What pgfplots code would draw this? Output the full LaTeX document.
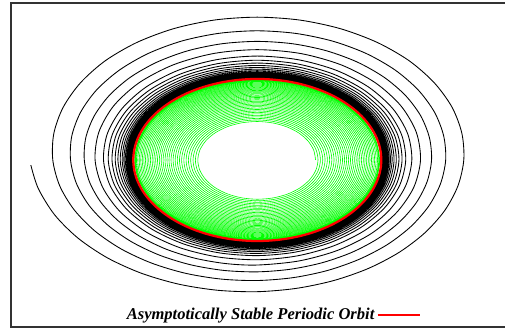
\documentclass[border=0pt]{standalone}
\usepackage{fontspec}
\setmainfont{Liberation Serif}
\usepackage{pgfplots}
\pgfplotsset{compat=1.18}
\begin{document}
\begin{tikzpicture}
\useasboundingbox (0,0) rectangle (378.75pt,246.75pt);
\clip (0,0) rectangle (378.75pt,246.75pt);
\begin{axis}[
  at={(8.25pt,1.5pt)}, anchor=south west,
  width=378pt, height=243pt, scale only axis,
  xmin=-1.986, xmax=2.078, ymin=-2.062, ymax=1.938,
  ticks=none,
  axis line style={black!80, line width=1.1pt},
  legend plot pos=right,
  legend style={draw=none, fill=none, at={(axis description cs:0.8214,0.037)}, anchor=east,
    font=\fontsize{12.4}{14}\selectfont\bfseries\itshape},
  legend image code/.code={\draw[red, line width=0.8pt] (6pt,0pt) -- (38pt,0pt);},
]
\addplot[forget plot, black, line width=0.65pt, smooth, line join=round, data cs=polar] coordinates {
(182,1.827)(191.25,1.801)(202.5,1.769)(213.75,1.738)(225,1.709)(236.25,1.682)(247.5,1.659)(258.75,1.640)
(270,1.626)(281.25,1.616)(292.5,1.611)(303.75,1.611)(315,1.615)(326.25,1.623)(337.5,1.635)(348.75,1.649)
(360,1.665)(371.25,1.682)(382.5,1.700)(393.75,1.716)(405,1.732)(416.25,1.744)(427.5,1.754)(438.75,1.761)
(450,1.763)(461.25,1.762)(472.5,1.756)(483.75,1.746)(495,1.733)(506.25,1.715)(517.5,1.695)(528.75,1.673)
(540,1.649)(551.25,1.625)(562.5,1.600)(573.75,1.576)(585,1.553)(596.25,1.532)(607.5,1.514)(618.75,1.499)
(630,1.488)(641.25,1.481)(652.5,1.477)(663.75,1.476)(675,1.480)(686.25,1.486)(697.5,1.495)(708.75,1.506)
(720,1.519)(731.25,1.532)(742.5,1.546)(753.75,1.559)(765,1.571)(776.25,1.581)(787.5,1.588)(798.75,1.593)
(810,1.595)(821.25,1.594)(832.5,1.590)(843.75,1.582)(855,1.571)(866.25,1.558)(877.5,1.542)(888.75,1.525)
(900,1.506)(911.25,1.487)(922.5,1.468)(933.75,1.449)(945,1.431)(956.25,1.415)(967.5,1.401)(978.75,1.390)
(990,1.381)(1001.25,1.375)(1012.5,1.372)(1023.75,1.372)(1035,1.374)(1046.25,1.379)(1057.5,1.386)(1068.75,1.395)
(1080,1.405)(1091.25,1.415)(1102.5,1.426)(1113.75,1.436)(1125,1.445)(1136.25,1.453)(1147.5,1.459)(1158.75,1.463)
(1170,1.464)(1181.25,1.463)(1192.5,1.460)(1203.75,1.454)(1215,1.446)(1226.25,1.435)(1237.5,1.423)(1248.75,1.410)
(1260,1.395)(1271.25,1.380)(1282.5,1.365)(1293.75,1.350)(1305,1.336)(1316.25,1.324)(1327.5,1.313)(1338.75,1.304)
(1350,1.297)(1365,1.291)(1380,1.290)(1395,1.292)(1410,1.297)(1425,1.306)(1440,1.316)(1455,1.327)(1470,1.337)
(1485,1.347)(1500,1.355)(1515,1.360)(1530,1.362)(1545,1.361)(1560,1.356)(1575,1.348)(1590,1.337)(1605,1.323)
(1620,1.308)(1635,1.292)(1650,1.277)(1665,1.262)(1680,1.250)(1695,1.239)
(1710,1.232)(1725,1.227)(1740,1.226)(1755,1.228)(1770,1.232)(1785,1.238)(1800,1.246)(1815,1.255)(1830,1.263)
(1845,1.271)(1860,1.277)(1875,1.281)(1890,1.283)(1905,1.281)(1920,1.278)(1935,1.271)(1950,1.262)(1965,1.252)
(1980,1.240)(1995,1.228)(2010,1.216)(2025,1.205)(2040,1.195)(2055,1.187)
(2070,1.1807)(2085,1.1780)(2100,1.1777)(2115,1.1797)(2130,1.1839)(2145,1.1897)(2160,1.1968)(2175,1.2044)(2190,1.2121)(2205,1.2191)(2220,1.2249)(2235,1.2292)(2250,1.2314)(2265,1.2314)(2280,1.2292)(2295,1.2248)(2310,1.2185)(2325,1.2107)(2340,1.2017)(2355,1.1922)(2370,1.1827)(2385,1.1739)(2400,1.1661)(2415,1.1598)
(2430,1.1536)(2445,1.1512)(2460,1.1510)(2475,1.1528)(2490,1.1563)(2505,1.1613)(2520,1.1672)(2535,1.1737)(2550,1.1802)(2565,1.1862)(2580,1.1912)(2595,1.1948)(2610,1.1966)(2625,1.1967)(2640,1.1948)(2655,1.1911)(2670,1.1857)(2685,1.1790)(2700,1.1714)(2715,1.1634)(2730,1.1553)(2745,1.1478)(2760,1.1411)(2775,1.1358)
(2790,1.1305)(2805,1.1286)(2820,1.1284)(2835,1.1299)(2850,1.1329)(2865,1.1371)(2880,1.1422)(2895,1.1477)(2910,1.1532)(2925,1.1583)(2940,1.1625)(2955,1.1656)(2970,1.1672)(2985,1.1672)(3000,1.1656)(3015,1.1624)(3030,1.1579)(3045,1.1522)(3060,1.1457)(3075,1.1389)(3090,1.1320)(3105,1.1256)(3120,1.1200)(3135,1.1155)
(3150,1.1110)(3165,1.1093)(3180,1.1091)(3195,1.1104)(3210,1.1129)(3225,1.1165)(3240,1.1209)(3255,1.1255)(3270,1.1302)(3285,1.1346)(3300,1.1381)(3315,1.1407)(3330,1.1421)(3345,1.1421)(3360,1.1408)(3375,1.1381)(3390,1.1342)(3405,1.1294)(3420,1.1239)(3435,1.1180)(3450,1.1122)(3465,1.1068)(3480,1.1020)(3495,1.0981)
(3510,1.0943)(3525,1.0929)(3540,1.0928)(3555,1.0938)(3570,1.0960)(3585,1.0991)(3600,1.1027)(3615,1.1067)(3630,1.1107)(3645,1.1144)(3660,1.1174)(3675,1.1196)(3690,1.1208)(3705,1.1208)(3720,1.1197)(3735,1.1174)(3750,1.1141)(3765,1.1100)(3780,1.1053)(3795,1.1004)(3810,1.0954)(3825,1.0908)(3840,1.0867)(3855,1.0834)
(3870,1.0801)(3885,1.0789)(3900,1.0788)(3915,1.0797)(3930,1.0816)(3945,1.0842)(3960,1.0873)(3975,1.0907)(3990,1.0941)(4005,1.0972)(4020,1.0998)(4035,1.1016)(4050,1.1026)(4065,1.1026)(4080,1.1017)(4095,1.0997)(4110,1.0969)(4125,1.0934)(4140,1.0895)(4155,1.0853)(4170,1.0811)(4185,1.0771)(4200,1.0737)(4215,1.0709)
(4230,1.0681)(4245,1.0671)(4260,1.0670)(4275,1.0678)(4290,1.0693)(4305,1.0715)(4320,1.0742)(4335,1.0771)(4350,1.0800)(4365,1.0826)(4380,1.0848)(4395,1.0864)(4410,1.0872)(4425,1.0873)(4440,1.0864)(4455,1.0848)(4470,1.0824)(4485,1.0794)(4500,1.0761)(4515,1.0725)(4530,1.0689)(4545,1.0656)(4560,1.0626)(4575,1.0603)
(4590,1.0580)(4605,1.0571)(4620,1.0570)(4635,1.0577)(4650,1.0590)(4665,1.0609)(4680,1.0631)(4695,1.0656)(4710,1.0680)(4725,1.0703)(4740,1.0722)(4755,1.0735)(4770,1.0742)(4785,1.0742)(4800,1.0735)(4815,1.0721)(4830,1.0701)(4845,1.0676)(4860,1.0647)(4875,1.0617)(4890,1.0586)(4905,1.0558)(4920,1.0533)(4935,1.0513)
(4950,1.0492)(4965,1.0485)(4980,1.0484)(4995,1.0490)(5010,1.0501)(5025,1.0517)(5040,1.0536)(5055,1.0557)(5070,1.0578)(5085,1.0597)(5100,1.0613)(5115,1.0624)(5130,1.0630)(5145,1.0631)(5160,1.0624)(5175,1.0613)(5190,1.0595)(5205,1.0574)(5220,1.0550)(5235,1.0524)(5250,1.0498)(5265,1.0474)(5280,1.0452)(5295,1.0435)
(5310,1.0418)(5325,1.0412)(5340,1.0411)(5355,1.0416)(5370,1.0426)(5385,1.0439)(5400,1.0456)(5415,1.0473)(5430,1.0491)(5445,1.0507)(5460,1.0521)(5475,1.0531)(5490,1.0536)(5505,1.0536)(5520,1.0531)(5535,1.0521)(5550,1.0506)(5565,1.0488)(5580,1.0467)(5595,1.0445)(5610,1.0423)(5625,1.0403)(5640,1.0385)(5655,1.0370)
(5670,1.0356)(5685,1.0351)(5700,1.0350)(5715,1.0354)(5730,1.0362)(5745,1.0374)(5760,1.0388)(5775,1.0403)(5790,1.0418)(5805,1.0432)(5820,1.0443)(5835,1.0452)(5850,1.0456)(5865,1.0456)(5880,1.0452)(5895,1.0443)(5910,1.0431)(5925,1.0415)(5940,1.0398)(5955,1.0379)(5970,1.0360)(5985,1.0343)(6000,1.0327)(6015,1.0315)
(6030,1.0302)(6045,1.0298)(6060,1.0297)(6075,1.0301)(6090,1.0308)(6105,1.0318)(6120,1.0329)(6135,1.0342)(6150,1.0355)(6165,1.0367)(6180,1.0376)(6195,1.0384)(6210,1.0387)(6225,1.0387)(6240,1.0384)(6255,1.0376)(6270,1.0366)(6285,1.0353)(6300,1.0338)(6315,1.0322)(6330,1.0306)(6345,1.0291)(6360,1.0278)(6375,1.0267)
(6390,1.0257)(6405,1.0253)(6420,1.0253)(6435,1.0256)(6450,1.0262)(6465,1.0270)(6480,1.0280)(6495,1.0291)(6510,1.0302)(6525,1.0312)(6540,1.0320)(6555,1.0326)(6570,1.0329)(6585,1.0329)(6600,1.0326)(6615,1.0320)(6630,1.0311)(6645,1.0300)(6660,1.0287)(6675,1.0273)(6690,1.0260)(6705,1.0247)(6720,1.0236)(6735,1.0227)
(6750,1.0218)(6765,1.0215)(6780,1.0215)(6795,1.0217)(6810,1.0222)(6825,1.0229)(6840,1.0238)(6855,1.0247)(6870,1.0256)(6885,1.0265)(6900,1.0272)(6915,1.0277)(6930,1.0280)(6945,1.0280)(6960,1.0277)(6975,1.0272)(6990,1.0264)(7005,1.0255)(7020,1.0244)(7035,1.0232)(7050,1.0221)(7065,1.0210)(7080,1.0201)(7095,1.0193)
(7110,1.0186)(7125,1.0183)(7140,1.0183)(7155,1.0185)(7170,1.0189)(7185,1.0195)(7200,1.0202)(7215,1.0210)(7230,1.0218)(7245,1.0225)(7260,1.0231)(7275,1.0235)(7290,1.0238)(7305,1.0238)(7320,1.0236)(7335,1.0231)(7350,1.0225)(7365,1.0216)(7380,1.0207)(7395,1.0198)(7410,1.0188)(7425,1.0179)(7440,1.0171)(7455,1.0164)
(7470,1.0158)(7485,1.0156)(7500,1.0155)(7515,1.0157)(7530,1.0161)(7545,1.0166)(7560,1.0172)(7575,1.0179)(7590,1.0185)(7605,1.0191)(7620,1.0197)(7635,1.0200)(7650,1.0202)(7665,1.0202)(7680,1.0200)(7695,1.0197)(7710,1.0191)(7725,1.0184)(7740,1.0176)(7755,1.0168)(7770,1.0160)(7785,1.0152)(7800,1.0145)(7815,1.0140)
(7830,1.0134)(7845,1.0132)(7860,1.0132)(7875,1.0134)(7890,1.0137)(7905,1.0141)(7920,1.0146)(7935,1.0152)(7950,1.0158)(7965,1.0163)(7980,1.0167)(7995,1.0170)(8010,1.0172)(8025,1.0172)(8040,1.0170)(8055,1.0167)(8070,1.0163)(8085,1.0157)(8100,1.0150)(8115,1.0143)(8130,1.0136)(8145,1.0129)(8160,1.0124)(8175,1.0119)
(8190,1.0114)(8205,1.0113)(8220,1.0112)(8235,1.0114)(8250,1.0116)(8265,1.0120)(8280,1.0124)(8295,1.0129)(8310,1.0134)(8325,1.0139)(8340,1.0142)(8355,1.0145)(8370,1.0146)(8385,1.0146)(8400,1.0145)(8415,1.0142)(8430,1.0138)(8445,1.0133)(8460,1.0128)(8475,1.0122)(8490,1.0116)(8505,1.0110)(8520,1.0105)(8535,1.0101)
(8550,1.0097)(8565,1.0096)(8580,1.0096)(8595,1.0097)(8610,1.0099)(8625,1.0102)(8640,1.0106)(8655,1.0110)(8670,1.0114)(8685,1.0118)(8700,1.0121)(8715,1.0124)(8730,1.0125)(8745,1.0125)(8760,1.0124)(8775,1.0121)(8790,1.0118)(8805,1.0114)(8820,1.0109)(8835,1.0104)(8850,1.0099)(8865,1.0094)(8880,1.0090)(8895,1.0086)
(8910,1.0082)(8925,1.0081)(8940,1.0081)(8955,1.0082)(8970,1.0084)(8985,1.0086)(9000,1.0090)(9015,1.0093)(9030,1.0097)(9045,1.0100)(9060,1.0102)(9075,1.0104)(9090,1.0105)(9105,1.0105)(9120,1.0104)(9135,1.0102)(9150,1.0100)(9165,1.0096)(9180,1.0092)(9195,1.0088)(9210,1.0083)(9225,1.0079)(9240,1.0076)(9255,1.0073)
(9270,1.0071)
};
\addplot[forget plot, color={rgb,255:red,0;green,255;blue,0}, line width=0.45pt, smooth, line join=round, data cs=polar] coordinates {
(0,.4700)(15,.4708)(30,.4716)(45,.4724)(60,.4732)(75,.4741)(90,.4749)(105,.4757)(120,.4765)(135,.4773)(150,.4781)(165,.4789)(180,.4797)(195,.4805)(210,.4813)(225,.4822)(240,.4830)(255,.4838)(270,.4846)(285,.4854)(300,.4862)(315,.4870)(330,.4878)(345,.4886)
(360,.4895)(375,.4903)(390,.4911)(405,.4919)(420,.4927)(435,.4935)(450,.4943)(465,.4951)(480,.4959)(495,.4967)(510,.4975)(525,.4983)(540,.4991)(555,.4999)(570,.5007)(585,.5015)(600,.5023)(615,.5031)(630,.5039)(645,.5047)(660,.5055)(675,.5063)(690,.5071)(705,.5079)
(720,.5088)(735,.5096)(750,.5104)(765,.5112)(780,.5120)(795,.5128)(810,.5135)(825,.5143)(840,.5151)(855,.5159)(870,.5167)(885,.5175)(900,.5183)(915,.5191)(930,.5199)(945,.5207)(960,.5214)(975,.5222)(990,.5230)(1005,.5238)(1020,.5246)(1035,.5254)(1050,.5262)(1065,.5270)
(1080,.5278)(1095,.5286)(1110,.5294)(1125,.5301)(1140,.5309)(1155,.5317)(1170,.5325)(1185,.5333)(1200,.5340)(1215,.5348)(1230,.5356)(1245,.5364)(1260,.5372)(1275,.5379)(1290,.5387)(1305,.5395)(1320,.5403)(1335,.5411)(1350,.5418)(1365,.5426)(1380,.5434)(1395,.5442)(1410,.5450)(1425,.5457)
(1440,.5465)(1455,.5473)(1470,.5480)(1485,.5488)(1500,.5496)(1515,.5504)(1530,.5511)(1545,.5519)(1560,.5527)(1575,.5534)(1590,.5542)(1605,.5550)(1620,.5557)(1635,.5565)(1650,.5573)(1665,.5581)(1680,.5588)(1695,.5596)(1710,.5604)(1725,.5611)(1740,.5619)(1755,.5627)(1770,.5634)(1785,.5642)
(1800,.5650)(1815,.5658)(1830,.5665)(1845,.5673)(1860,.5680)(1875,.5688)(1890,.5696)(1905,.5703)(1920,.5711)(1935,.5718)(1950,.5726)(1965,.5734)(1980,.5741)(1995,.5749)(2010,.5756)(2025,.5764)(2040,.5772)(2055,.5779)(2070,.5787)(2085,.5794)(2100,.5802)(2115,.5810)(2130,.5817)(2145,.5825)
(2160,.5833)(2175,.5840)(2190,.5848)(2205,.5855)(2220,.5863)(2235,.5870)(2250,.5878)(2265,.5885)(2280,.5893)(2295,.5900)(2310,.5908)(2325,.5915)(2340,.5923)(2355,.5930)(2370,.5938)(2385,.5945)(2400,.5953)(2415,.5960)(2430,.5968)(2445,.5975)(2460,.5983)(2475,.5990)(2490,.5998)(2505,.6005)
(2520,.6013)(2535,.6020)(2550,.6028)(2565,.6035)(2580,.6043)(2595,.6050)(2610,.6057)(2625,.6065)(2640,.6072)(2655,.6080)(2670,.6087)(2685,.6094)(2700,.6102)(2715,.6109)(2730,.6117)(2745,.6124)(2760,.6131)(2775,.6139)(2790,.6146)(2805,.6154)(2820,.6161)(2835,.6168)(2850,.6176)(2865,.6183)
(2880,.6190)(2895,.6197)(2910,.6205)(2925,.6212)(2940,.6219)(2955,.6227)(2970,.6234)(2985,.6241)(3000,.6248)(3015,.6256)(3030,.6263)(3045,.6270)(3060,.6278)(3075,.6285)(3090,.6292)(3105,.6300)(3120,.6307)(3135,.6314)(3150,.6321)(3165,.6329)(3180,.6336)(3195,.6343)(3210,.6351)(3225,.6358)
(3240,.6365)(3255,.6372)(3270,.6379)(3285,.6387)(3300,.6394)(3315,.6401)(3330,.6408)(3345,.6415)(3360,.6423)(3375,.6430)(3390,.6437)(3405,.6444)(3420,.6451)(3435,.6459)(3450,.6466)(3465,.6473)(3480,.6480)(3495,.6487)(3510,.6495)(3525,.6502)(3540,.6509)(3555,.6516)(3570,.6523)(3585,.6531)
(3600,.6538)(3615,.6545)(3630,.6552)(3645,.6559)(3660,.6566)(3675,.6574)(3690,.6581)(3705,.6588)(3720,.6595)(3735,.6602)(3750,.6609)(3765,.6616)(3780,.6623)(3795,.6630)(3810,.6637)(3825,.6645)(3840,.6652)(3855,.6659)(3870,.6666)(3885,.6673)(3900,.6680)(3915,.6687)(3930,.6694)(3945,.6701)
(3960,.6708)(3975,.6715)(3990,.6722)(4005,.6729)(4020,.6736)(4035,.6743)(4050,.6750)(4065,.6757)(4080,.6764)(4095,.6771)(4110,.6778)(4125,.6785)(4140,.6792)(4155,.6799)(4170,.6806)(4185,.6813)(4200,.6820)(4215,.6827)(4230,.6834)(4245,.6841)(4260,.6848)(4275,.6855)(4290,.6862)(4305,.6869)
(4320,.6875)(4335,.6882)(4350,.6889)(4365,.6896)(4380,.6903)(4395,.6910)(4410,.6916)(4425,.6923)(4440,.6930)(4455,.6937)(4470,.6944)(4485,.6951)(4500,.6958)(4515,.6965)(4530,.6972)(4545,.6979)(4560,.6985)(4575,.6992)(4590,.6999)(4605,.7006)(4620,.7013)(4635,.7020)(4650,.7027)(4665,.7034)
(4680,.7040)(4695,.7047)(4710,.7054)(4725,.7060)(4740,.7067)(4755,.7074)(4770,.7081)(4785,.7088)(4800,.7094)(4815,.7101)(4830,.7108)(4845,.7115)(4860,.7122)(4875,.7128)(4890,.7135)(4905,.7142)(4920,.7149)(4935,.7156)(4950,.7162)(4965,.7169)(4980,.7176)(4995,.7183)(5010,.7190)(5025,.7196)
(5040,.7203)(5055,.7210)(5070,.7216)(5085,.7223)(5100,.7230)(5115,.7236)(5130,.7243)(5145,.7250)(5160,.7257)(5175,.7263)(5190,.7270)(5205,.7277)(5220,.7283)(5235,.7290)(5250,.7297)(5265,.7303)(5280,.7310)(5295,.7317)(5310,.7324)(5325,.7330)(5340,.7337)(5355,.7344)(5370,.7350)(5385,.7357)
(5400,.7363)(5415,.7370)(5430,.7376)(5445,.7383)(5460,.7389)(5475,.7396)(5490,.7403)(5505,.7409)(5520,.7416)(5535,.7422)(5550,.7429)(5565,.7436)(5580,.7442)(5595,.7449)(5610,.7455)(5625,.7462)(5640,.7469)(5655,.7475)(5670,.7482)(5685,.7488)(5700,.7495)(5715,.7502)(5730,.7508)(5745,.7515)
(5760,.7520)(5775,.7527)(5790,.7533)(5805,.7540)(5820,.7546)(5835,.7553)(5850,.7559)(5865,.7566)(5880,.7572)(5895,.7579)(5910,.7585)(5925,.7592)(5940,.7598)(5955,.7605)(5970,.7611)(5985,.7618)(6000,.7624)(6015,.7631)(6030,.7637)(6045,.7644)(6060,.7650)(6075,.7657)(6090,.7663)(6105,.7670)
(6120,.7675)(6135,.7681)(6150,.7688)(6165,.7694)(6180,.7700)(6195,.7707)(6210,.7713)(6225,.7719)(6240,.7726)(6255,.7732)(6270,.7739)(6285,.7745)(6300,.7751)(6315,.7758)(6330,.7764)(6345,.7770)(6360,.7777)(6375,.7783)(6390,.7789)(6405,.7796)(6420,.7802)(6435,.7808)(6450,.7815)(6465,.7821)
(6480,.7828)(6495,.7834)(6510,.7840)(6525,.7847)(6540,.7853)(6555,.7859)(6570,.7866)(6585,.7872)(6600,.7878)(6615,.7884)(6630,.7891)(6645,.7897)(6660,.7903)(6675,.7909)(6690,.7916)(6705,.7922)(6720,.7928)(6735,.7934)(6750,.7941)(6765,.7947)(6780,.7953)(6795,.7959)(6810,.7966)(6825,.7972)
(6840,.7978)(6855,.7984)(6870,.7990)(6885,.7996)(6900,.8003)(6915,.8009)(6930,.8015)(6945,.8021)(6960,.8027)(6975,.8033)(6990,.8040)(7005,.8046)(7020,.8052)(7035,.8058)(7050,.8064)(7065,.8070)(7080,.8076)(7095,.8083)(7110,.8089)(7125,.8095)(7140,.8101)(7155,.8107)(7170,.8113)(7185,.8119)
(7200,.8125)(7215,.8131)(7230,.8137)(7245,.8143)(7260,.8149)(7275,.8155)(7290,.8161)(7305,.8167)(7320,.8173)(7335,.8179)(7350,.8185)(7365,.8191)(7380,.8197)(7395,.8204)(7410,.8210)(7425,.8216)(7440,.8222)(7455,.8228)(7470,.8234)(7485,.8240)(7500,.8246)(7515,.8252)(7530,.8258)(7545,.8264)
(7560,.8270)(7575,.8276)(7590,.8282)(7605,.8288)(7620,.8294)(7635,.8300)(7650,.8306)(7665,.8312)(7680,.8318)(7695,.8323)(7710,.8329)(7725,.8335)(7740,.8341)(7755,.8347)(7770,.8353)(7785,.8359)(7800,.8365)(7815,.8371)(7830,.8377)(7845,.8383)(7860,.8389)(7875,.8395)(7890,.8401)(7905,.8407)
(7920,.8413)(7935,.8419)(7950,.8425)(7965,.8430)(7980,.8436)(7995,.8442)(8010,.8448)(8025,.8454)(8040,.8460)(8055,.8465)(8070,.8471)(8085,.8477)(8100,.8483)(8115,.8489)(8130,.8495)(8145,.8500)(8160,.8506)(8175,.8512)(8190,.8518)(8205,.8524)(8220,.8530)(8235,.8535)(8250,.8541)(8265,.8547)
(8280,.8553)(8295,.8559)(8310,.8564)(8325,.8570)(8340,.8576)(8355,.8582)(8370,.8587)(8385,.8593)(8400,.8599)(8415,.8605)(8430,.8610)(8445,.8616)(8460,.8622)(8475,.8627)(8490,.8633)(8505,.8639)(8520,.8645)(8535,.8650)(8550,.8656)(8565,.8662)(8580,.8668)(8595,.8673)(8610,.8679)(8625,.8685)
(8640,.8690)(8655,.8696)(8670,.8701)(8685,.8707)(8700,.8713)(8715,.8718)(8730,.8724)(8745,.8729)(8760,.8735)(8775,.8741)(8790,.8746)(8805,.8752)(8820,.8758)(8835,.8763)(8850,.8769)(8865,.8774)(8880,.8780)(8895,.8786)(8910,.8791)(8925,.8797)(8940,.8803)(8955,.8808)(8970,.8814)(8985,.8819)
(9000,.8825)(9015,.8831)(9030,.8836)(9045,.8842)(9060,.8847)(9075,.8853)(9090,.8858)(9105,.8864)(9120,.8869)(9135,.8875)(9150,.8880)(9165,.8886)(9180,.8891)(9195,.8897)(9210,.8902)(9225,.8908)(9240,.8913)(9255,.8919)(9270,.8924)(9285,.8930)(9300,.8935)(9315,.8941)(9330,.8946)(9345,.8952)
(9360,.8958)(9375,.8963)(9390,.8968)(9405,.8974)(9420,.8979)(9435,.8985)(9450,.8990)(9465,.8996)(9480,.9001)(9495,.9006)(9510,.9012)(9525,.9017)(9540,.9023)(9555,.9028)(9570,.9034)(9585,.9039)(9600,.9045)(9615,.9050)(9630,.9055)(9645,.9061)(9660,.9066)(9675,.9072)(9690,.9077)(9705,.9083)
(9720,.9088)(9735,.9093)(9750,.9098)(9765,.9104)(9780,.9109)(9795,.9114)(9810,.9120)(9825,.9125)(9840,.9130)(9855,.9136)(9870,.9141)(9885,.9146)(9900,.9152)(9915,.9157)(9930,.9162)(9945,.9168)(9960,.9173)(9975,.9178)(9990,.9184)(10005,.9189)(10020,.9194)(10035,.9200)(10050,.9205)(10065,.9210)
(10080,.9215)(10095,.9220)(10110,.9225)(10125,.9231)(10140,.9236)(10155,.9241)(10170,.9246)(10185,.9251)(10200,.9257)(10215,.9262)(10230,.9267)(10245,.9272)(10260,.9278)(10275,.9283)(10290,.9288)(10305,.9293)(10320,.9298)(10335,.9304)(10350,.9309)(10365,.9314)(10380,.9319)(10395,.9324)(10410,.9330)(10425,.9335)
(10440,.9340)(10455,.9345)(10470,.9350)(10485,.9355)(10500,.9360)(10515,.9366)(10530,.9371)(10545,.9376)(10560,.9381)(10575,.9386)(10590,.9391)(10605,.9396)(10620,.9401)(10635,.9406)(10650,.9411)(10665,.9417)(10680,.9422)(10695,.9427)(10710,.9432)(10725,.9437)(10740,.9442)(10755,.9447)(10770,.9452)(10785,.9457)
(10800,.9463)(10815,.9468)(10830,.9473)(10845,.9478)(10860,.9483)(10875,.9488)(10890,.9493)(10905,.9498)(10920,.9503)(10935,.9508)(10950,.9513)(10965,.9518)(10980,.9523)(10995,.9528)(11010,.9533)(11025,.9538)(11040,.9543)(11055,.9548)(11070,.9553)(11085,.9558)(11100,.9563)(11115,.9568)(11130,.9573)(11145,.9578)
(11160,.9583)(11175,.9588)(11190,.9593)(11205,.9598)(11220,.9603)(11235,.9607)(11250,.9612)(11265,.9617)(11280,.9622)(11295,.9627)(11310,.9632)(11325,.9637)(11340,.9642)(11355,.9647)(11370,.9652)(11385,.9656)(11400,.9661)(11415,.9666)(11430,.9671)(11445,.9676)(11460,.9681)(11475,.9686)(11490,.9691)(11505,.9696)
(11520,.9700)(11535,.9704)(11550,.9708)(11565,.9711)(11580,.9715)(11595,.9719)(11610,.9723)(11625,.9726)(11640,.9730)(11655,.9734)(11670,.9738)(11685,.9741)(11700,.9745)(11715,.9749)(11730,.9753)(11745,.9756)(11760,.9760)(11775,.9764)(11790,.9768)(11805,.9771)(11820,.9775)(11835,.9779)(11850,.9783)(11865,.9786)
(11880,.9790)(11895,.9793)(11910,.9796)(11925,.9799)(11940,.9802)(11955,.9805)(11970,.9808)(11985,.9810)(12000,.9813)(12015,.9816)(12030,.9819)(12045,.9822)(12060,.9825)(12075,.9828)(12090,.9831)(12105,.9834)(12120,.9837)(12135,.9840)(12150,.9843)(12165,.9845)(12180,.9848)(12195,.9851)(12210,.9854)(12225,.9857)
(12240,.9860)(12255,.9862)(12270,.9864)(12285,.9866)(12300,.9868)(12315,.9870)(12330,.9872)(12345,.9875)(12360,.9877)(12375,.9879)(12390,.9881)(12405,.9883)(12420,.9885)(12435,.9887)(12450,.9889)(12465,.9891)(12480,.9893)(12495,.9895)(12510,.9897)(12525,.9900)(12540,.9902)(12555,.9904)(12570,.9906)(12585,.9908)
(12600,.9910)
};
\addplot[red, line width=1.7pt, smooth, line join=round, data cs=polar] coordinates {
(0,1)(5,1)(10,1)(15,1)(20,1)(25,1)(30,1)(35,1)(40,1)(45,1)(50,1)(55,1)(60,1)(65,1)(70,1)(75,1)(80,1)(85,1)(90,1)
(95,1)(100,1)(105,1)(110,1)(115,1)(120,1)(125,1)(130,1)(135,1)(140,1)(145,1)(150,1)(155,1)(160,1)(165,1)(170,1)(175,1)(180,1)
(185,1)(190,1)(195,1)(200,1)(205,1)(210,1)(215,1)(220,1)(225,1)(230,1)(235,1)(240,1)(245,1)(250,1)(255,1)(260,1)(265,1)(270,1)
(275,1)(280,1)(285,1)(290,1)(295,1)(300,1)(305,1)(310,1)(315,1)(320,1)(325,1)(330,1)(335,1)(340,1)(345,1)(350,1)(355,1)(360,1)
};
\addlegendentry{Asymptotically Stable Periodic Orbit}
\end{axis}
\end{tikzpicture}
\end{document}
